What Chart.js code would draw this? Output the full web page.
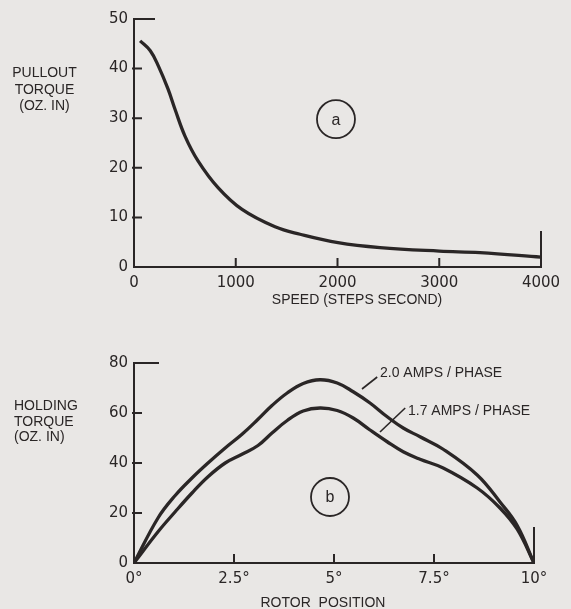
<!DOCTYPE html>
<html>
<head>
<meta charset="utf-8">
<script src="https://cdn.jsdelivr.net/npm/chart.js@4.4.1/dist/chart.umd.min.js"></script>
<style>
  html, body { margin: 0; padding: 0; background: #e9e7e5; }
  #wrap { position: relative; width: 571px; height: 609px; overflow: hidden;
          font-family: "Liberation Sans", Arial, sans-serif; color: #2a2626; }
  canvas { position: absolute; left: 0; }
  .lbl { position: absolute; font-size: 14px; line-height: 16.5px; white-space: nowrap; }
</style>
</head>
<body>
<div id="wrap">
  <canvas id="chartA" width="571" height="305" style="top:0"></canvas>
  <canvas id="chartB" width="571" height="309" style="top:300px"></canvas>

  <div class="lbl" style="left:0;width:89px;top:64px;text-align:center">PULLOUT<br>TORQUE<br>(OZ. IN)</div>
  <div class="lbl" style="left:257px;width:200px;top:291px;text-align:center">SPEED (STEPS SECOND)</div>
  <div class="lbl" style="left:14px;top:398px;line-height:15.5px">HOLDING<br>TORQUE<br>(OZ. IN)</div>
  <div class="lbl" style="left:223px;width:200px;top:594px;text-align:center">ROTOR&nbsp; POSITION</div>
</div>

<script>
// (a) pullout torque vs speed
const speed        = [60, 160, 240, 334, 403, 501, 629, 826, 1062, 1386, 1632, 2005, 2418, 3000, 3400, 4000];
const pullout      = [45.6, 43.6, 40.5, 35.9, 31.8, 26.4, 21.4, 16.0, 11.6, 8.1, 6.6, 4.9, 3.9, 3.2, 2.9, 2.0];
const speedTicks   = ['0', '1000', '2000', '3000', '4000'];
const pulloutTicks = ['0', '10', '20', '30', '40', '50'];

// (b) holding torque vs rotor position (degrees)
const rotorHi   = [0, 0.6, 1.03, 1.45, 1.85, 2.28, 2.7, 3.1, 3.45, 3.83, 4.23, 4.65, 5.08, 5.48, 5.9, 6.33, 6.73, 7.15, 7.73, 8.58, 9.15, 9.58, 10];
const hold20    = [0, 18, 27, 34, 40, 46, 51.5, 57.5, 63, 68, 71.8, 73.3, 72, 68.5, 64, 58.5, 54, 50.5, 45.5, 35.2, 24.4, 15, 0];
const rotorLo   = [0, 0.6, 1.03, 1.45, 1.85, 2.28, 2.7, 3.1, 3.45, 3.83, 4.23, 4.65, 5.08, 5.48, 5.9, 6.33, 6.73, 7.15, 7.73, 8.58, 9.15, 9.58, 10];
const hold17    = [0, 12.5, 20.5, 28, 34.5, 40, 43.5, 47, 52, 57, 60.8, 62, 61, 58, 53.2, 48.5, 44.5, 41.5, 38, 30, 22, 13.5, 0];
const rotorTicks = ['0°', '2.5°', '5°', '7.5°', '10°'];
const holdTicks  = ['0', '20', '40', '60', '80'];

const ink = '#2a2626';
const tickFont = { family: '"DejaVu Sans", sans-serif', size: 15 };

// axis decorations the library doesn't do: inward ticks, top stub, right end line, labels
const deco = {
  id: 'deco',
  afterDraw(chart, args, o) {
    const { ctx, scales: { x, y } } = chart;
    ctx.save();
    ctx.strokeStyle = ink;
    ctx.fillStyle = ink;
    ctx.lineWidth = 2;
    ctx.beginPath();
    x.ticks.forEach(t => {
      if (t.value === x.min || t.value === x.max) return;
      const px = x.getPixelForValue(t.value);
      ctx.moveTo(px, y.bottom);
      ctx.lineTo(px, y.bottom - 9);
    });
    y.ticks.forEach(t => {
      if (t.value === y.min || t.value === y.max) return;
      const py = y.getPixelForValue(t.value);
      ctx.moveTo(x.left - 2, py);
      ctx.lineTo(x.left + 8, py);
    });
    ctx.moveTo(x.left, y.top);
    ctx.lineTo(x.left + o.topStub, y.top);
    ctx.moveTo(x.right, y.bottom);
    ctx.lineTo(x.right, y.bottom - 36);
    ctx.stroke();

    // circled panel letter
    const cx = x.getPixelForValue(o.circle.x);
    const cy = y.getPixelForValue(o.circle.y);
    ctx.lineWidth = 1.8;
    ctx.beginPath();
    ctx.arc(cx, cy, 19, 0, Math.PI * 2);
    ctx.stroke();
    ctx.font = '16px "Liberation Sans", Arial, sans-serif';
    ctx.textAlign = 'center';
    ctx.textBaseline = 'middle';
    ctx.fillText(o.circle.text, cx, cy + 1);

    // leader-line notes
    ctx.textAlign = 'left';
    ctx.font = '14px "Liberation Sans", Arial, sans-serif';
    ctx.lineWidth = 1.6;
    (o.notes || []).forEach(n => {
      ctx.beginPath();
      ctx.moveTo(x.getPixelForValue(n.from[0]), y.getPixelForValue(n.from[1]));
      ctx.lineTo(x.getPixelForValue(n.to[0]), y.getPixelForValue(n.to[1]));
      ctx.stroke();
      ctx.fillText(n.text, x.getPixelForValue(n.at[0]), y.getPixelForValue(n.at[1]));
    });
    ctx.restore();
  }
};

function lineSet(xs, ys) {
  return {
    data: xs.map((v, i) => ({ x: v, y: ys[i] })),
    borderColor: ink,
    borderWidth: 3.3,
    pointRadius: 0,
    tension: 0.4,
    fill: false,
  };
}

function makeOptions(cfg) {
  return {
    responsive: false,
    animation: false,
    layout: { padding: cfg.padding },
    plugins: { legend: { display: false }, tooltip: { enabled: false }, deco: cfg.deco },
    scales: {
      x: {
        type: 'linear',
        min: cfg.xMin, max: cfg.xMax,
        grid: { display: false, drawTicks: false },
        border: { display: true, color: ink, width: 2 },
        ticks: {
          stepSize: cfg.xStep, color: ink, font: tickFont, padding: 7, maxRotation: 0,
          callback: (v, i) => cfg.xLabels[i],
        },
        afterFit: s => { s.height = cfg.xHeight; s.paddingLeft = 0; s.paddingRight = 0; },
      },
      y: {
        min: cfg.yMin, max: cfg.yMax,
        grid: { display: false, drawTicks: false },
        border: { display: true, color: ink, width: 2 },
        ticks: {
          stepSize: cfg.yStep, color: ink, font: tickFont, padding: 6,
          callback: (v, i) => cfg.yLabels[i],
        },
        afterFit: s => { s.width = 134; s.paddingTop = 0; s.paddingBottom = 0; },
      },
    },
  };
}

new Chart(document.getElementById('chartA'), {
  type: 'line',
  data: { datasets: [lineSet(speed, pullout)] },
  options: makeOptions({
    padding: { top: 19, right: 30, bottom: 0, left: 0 },
    xMin: 0, xMax: 4000, xStep: 1000, xLabels: speedTicks, xHeight: 38,
    yMin: 0, yMax: 50, yStep: 10, yLabels: pulloutTicks,
    deco: { topStub: 21, circle: { x: 1985, y: 29.8, text: 'a' } },
  }),
  plugins: [deco],
});

new Chart(document.getElementById('chartB'), {
  type: 'line',
  data: { datasets: [lineSet(rotorHi, hold20), lineSet(rotorLo, hold17)] },
  options: makeOptions({
    padding: { top: 63, right: 37, bottom: 0, left: 0 },
    xMin: 0, xMax: 10, xStep: 2.5, xLabels: rotorTicks, xHeight: 46,
    yMin: 0, yMax: 80, yStep: 20, yLabels: holdTicks,
    deco: {
      topStub: 25,
      circle: { x: 4.9, y: 26.4, text: 'b' },
      notes: [
        { from: [5.7, 69.6], to: [6.08, 74.4], at: [6.15, 76], text: '2.0 AMPS / PHASE' },
        { from: [6.15, 52.4], to: [6.78, 62], at: [6.85, 60.8], text: '1.7 AMPS / PHASE' },
      ],
    },
  }),
  plugins: [deco],
});
</script>
</body>
</html>
